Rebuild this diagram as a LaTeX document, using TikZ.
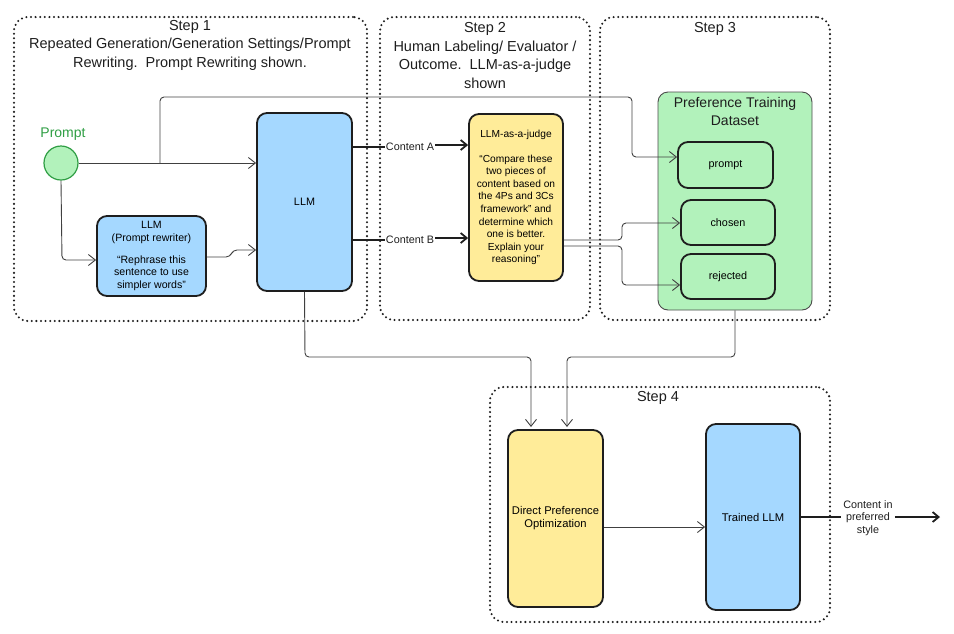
\documentclass[tikz,border=0pt]{standalone}
\usepackage{fontspec}
\setmainfont{Liberation Sans}
\usetikzlibrary{arrows.meta,calc}
\definecolor{ink}{HTML}{1E1E1E}
\definecolor{lblue}{HTML}{A5D8FF}
\definecolor{lyellow}{HTML}{FFEC99}
\definecolor{lgreen}{HTML}{B2F2BB}
\definecolor{dgreen}{HTML}{2F9E44}
\tikzset{
  stepbox/.style={draw=ink, line width=2.3pt, line cap=round, dash pattern=on 0pt off 4.6pt, rounded corners=14pt, inner sep=0pt},
  box/.style={draw=ink, line width=1.8pt, rounded corners=10pt, inner sep=2pt, align=center, font=\fontsize{10.8}{12.8}\selectfont},
  steptitle/.style={align=center, inner sep=0pt, font=\fontsize{14.5}{18.5}\selectfont, text=ink},
  small/.style={align=center, inner sep=0pt, font=\fontsize{10.8}{12.6}\selectfont, text=ink},
  conn/.style={draw=ink!85, line width=0.9pt, rounded corners=4pt, -{Straight Barb[length=7pt,width=11pt,line width=0.9pt]}},
  bigarrow/.style={draw=ink, line width=2.2pt, -{Straight Barb[length=6pt,width=10pt,line width=1.8pt]}},
  bigline/.style={draw=ink, line width=2pt},
}
\begin{document}
\begin{tikzpicture}[x=1pt,y=-1pt]
\useasboundingbox (0,0) rectangle (954,633);

% step frames
\node[stepbox, minimum width=353pt, minimum height=304pt] (s1) at (190.5,169) {};
\node[stepbox, minimum width=210pt, minimum height=303pt] (s2) at (485,168.5) {};
\node[stepbox, minimum width=230pt, minimum height=303pt] (s3) at (715,168.5) {};
\node[stepbox, minimum width=340pt, minimum height=235pt] (s4) at (660,504.5) {};

\node[steptitle] (t1) at (190,45) {Step 1\\Repeated Generation/Generation Settings/Prompt\\Rewriting.\ \ Prompt Rewriting shown.};
\node[steptitle] (t2) at (485,55.5) {Step 2\\Human Labeling/ Evaluator /\\Outcome.\ \ LLM-as-a-judge\\shown};
\node[steptitle] (t3) at (715,29) {Step 3};
\node[steptitle] (t4) at (658,398) {Step 4};

% step 1
\node[circle, draw=dgreen, fill=lgreen, line width=1.2pt, minimum size=34pt, inner sep=0pt] (prompt) at (61,163) {};
\node[text=dgreen, inner sep=0pt, font=\fontsize{14}{16}\selectfont] (promptlbl) at (63,134) {Prompt};
\node[box, fill=lblue, minimum width=109pt, minimum height=80pt, font=\fontsize{10.6}{12.3}\selectfont] (rw) at (151.5,256)
  {LLM\\(Prompt rewriter)\\[10pt]“Rephrase this\\sentence to use\\simpler words”};
\node[box, fill=lblue, minimum width=95pt, minimum height=178pt] (llm) at (304.5,202) {LLM};

% step 2
\node[box, fill=lyellow, minimum width=94pt, minimum height=167pt, font=\fontsize{10.2}{12.6}\selectfont] (judge) at (516,197.5)
  {LLM-as-a-judge\\[12pt]“Compare these\\two pieces of\\content based on\\the 4Ps and 3Cs\\framework” and\\determine which\\one is better.\\Explain your\\reasoning”};
\node[small] (ca) at (410,147) {Content A};
\node[small] (cb) at (410,240) {Content B};

% step 3
\node[draw=ink!80, line width=0.9pt, fill=lgreen, rounded corners=10pt, minimum width=154pt, minimum height=218pt] (ds) at (735,201) {};
\node[align=center, inner sep=0pt, font=\fontsize{14}{18}\selectfont, text=ink] (dstitle) at (735,111) {Preference Training\\Dataset};
\node[box, fill=lgreen, minimum width=95pt, minimum height=46pt] (pp) at (725.5,165) {prompt};
\node[box, fill=lgreen, minimum width=94pt, minimum height=45pt] (chosen) at (728,222.5) {chosen};
\node[box, fill=lgreen, minimum width=94pt, minimum height=45pt] (rejected) at (728,276.5) {rejected};

% step 4
\node[box, fill=lyellow, minimum width=95pt, minimum height=177pt, font=\fontsize{11.2}{13}\selectfont] (dpo) at (555.5,518.5) {Direct Preference\\Optimization};
\node[box, fill=lblue, minimum width=94pt, minimum height=186pt, font=\fontsize{11.2}{13}\selectfont] (tllm) at (753,517) {Trained LLM};
\node[small] (out) at (868,518) {Content in\\preferred\\style};

% connectors
\draw[conn] (prompt.east) -- (llm.west |- prompt.east);
\coordinate (br) at (160,163);
\draw[conn] (br) -- (160,97) -- (632,97) -- (632,157) -- (pp.west |- 0,157);
\draw[conn] (prompt.south) -- (62,260) -- (rw.west |- 0,260);
\draw[conn] (rw.east |- 0,257) -- (230,257) -- (233,250) -- (llm.west |- 0,250);

\draw[bigline] (llm.east |- ca) -- ([xshift=-1pt]ca.west);
\draw[bigarrow] ([xshift=1pt]ca.east |- 0,145) -- (judge.west |- 0,145);
\draw[bigline] (llm.east |- cb) -- ([xshift=-1pt]cb.west);
\draw[bigarrow] ([xshift=1pt]cb.east |- 0,238) -- (judge.west |- 0,238);

\draw[conn] (judge.east |- 0,240) -- (622,240) -- (622,223) -- (chosen.west |- 0,223);
\draw[conn] (judge.east |- 0,246) -- (622,246) -- (622,285) -- (rejected.west |- 0,285);

\draw[conn] (llm.south) -- (305,357) -- (531,357) -- (531,427);
\draw[conn] (ds.south) -- (735,357) -- (567,357) -- (567,427);

\draw[conn] (dpo.east |- 0,527) -- (tllm.west |- 0,527);
\draw[bigline] (tllm.east |- 0,517) -- ([xshift=-2pt]out.west |- 0,517);
\draw[bigarrow] ([xshift=2pt]out.east |- 0,517) -- (940,517);
\end{tikzpicture}
\end{document}
